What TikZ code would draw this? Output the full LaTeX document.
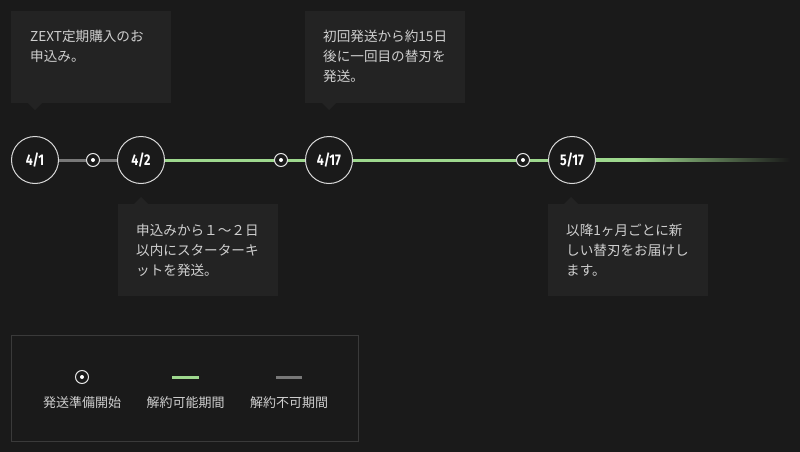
\documentclass[tikz,border=0pt]{standalone}
\usepackage{fontspec}
\setmainfont{Noto Sans CJK JP}
\newfontfamily\datefont{Fira Sans}
\usetikzlibrary{positioning}
\definecolor{bg}{HTML}{1A1A1A}
\definecolor{boxbg}{HTML}{232323}
\definecolor{txt}{HTML}{CFCFCF}
\definecolor{grn}{HTML}{9ED88E}
\definecolor{gry}{HTML}{787878}
\definecolor{legbd}{HTML}{3A3A3A}
\pgfdeclarehorizontalshading{fadegrn}{100bp}{color(0bp)=(grn); color(25bp)=(grn); color(35bp)=(grn); color(75bp)=(bg); color(100bp)=(bg)}
\newcommand\datelbl[1]{\scalebox{0.8}[1]{#1}}
\tikzset{
  x=1pt,y=-1pt,
  datecirc/.style={circle,draw=white!85!black,line width=1pt,fill=bg,minimum size=47pt,inner sep=0pt,text=white,font=\datefont\bfseries\fontsize{15.5}{15.5}\selectfont},
  shipdot/.style={circle,draw=white!90!black,line width=1pt,fill=bg,minimum size=13pt,inner sep=0pt},
  innerdot/.style={circle,fill=white,minimum size=4pt,inner sep=0pt},
  bubble/.style={fill=boxbg,draw=none},
  btxt/.style={anchor=north west,align=left,text=txt,inner sep=0pt,font=\fontsize{13.6}{20}\selectfont},
  legtxt/.style={text=txt,inner sep=0pt,font=\fontsize{13}{13}\selectfont},
  grnline/.style={grn,line width=3pt},
  gryline/.style={gry,line width=3pt}
}
\begin{document}
\begin{tikzpicture}
\fill[bg] (0,0) rectangle (800,452);
\useasboundingbox (0,0) rectangle (800,452);
% bubbles
\fill[bubble] (11,11) rectangle (171,103);
\fill[bubble] (28,103) -- (35,110) -- (42,103) -- cycle;
\fill[bubble] (305,11) rectangle (465,103);
\fill[bubble] (322,103) -- (329,110) -- (336,103) -- cycle;
\fill[bubble] (118,204) rectangle (278,296);
\fill[bubble] (134,204) -- (141,197) -- (148,204) -- cycle;
\fill[bubble] (548,204) rectangle (708,296);
\fill[bubble] (564,204) -- (571,197) -- (578,204) -- cycle;
\node[btxt] (t1) at (30,30) {ZEXT定期購入のお\\申込み。};
\node[btxt] (t2) at (323,30) {初回発送から約15日\\後に一回目の替刃を\\発送。};
\node[btxt] (t3) at (136,224) {申込みから１～２日\\以内にスターターキ\\ットを発送。};
\node[btxt] (t4) at (566,224) {以降1ヶ月ごとに新\\しい替刃をお届けし\\ます。};
% timeline nodes
\coordinate (c1) at (35,160);
\coordinate (c2) at (141,160);
\coordinate (c3) at (329,160);
\coordinate (c4) at (572,160);
\draw[gryline] (c1) -- (c2);
\fill[grn] (141,158.5) rectangle (600,161.5);
\shade[shading=fadegrn] (595,158.5) rectangle (790,161.5);
\node[shipdot] (d1) at (93,160) {};
\node[innerdot] at (d1) {};
\node[shipdot] (d2) at (281,160) {};
\node[innerdot] at (d2) {};
\node[shipdot] (d3) at (523,160) {};
\node[innerdot] at (d3) {};
\node[datecirc] (n1) at (c1) {\datelbl{4/1}};
\node[datecirc] (n2) at (c2) {\datelbl{4/2}};
\node[datecirc] (n3) at (c3) {\datelbl{4/17}};
\node[datecirc] (n4) at (c4) {\datelbl{5/17}};
% legend
\draw[legbd,line width=1pt] (11.5,335.5) rectangle (358.5,441.5);
\node[shipdot] (ld) at (82,377) {};
\node[innerdot] at (ld) {};
\node[legtxt] (l1) at (82,403) {発送準備開始};
\coordinate (g1) at (172,377);
\coordinate (g2) at (199,377);
\draw[grnline] (g1) -- (g2);
\node[legtxt] (l2) at (185.5,403) {解約可能期間};
\coordinate (h1) at (276,377);
\coordinate (h2) at (302,377);
\draw[gryline] (h1) -- (h2);
\node[legtxt] (l3) at (289,403) {解約不可期間};
\end{tikzpicture}
\end{document}
